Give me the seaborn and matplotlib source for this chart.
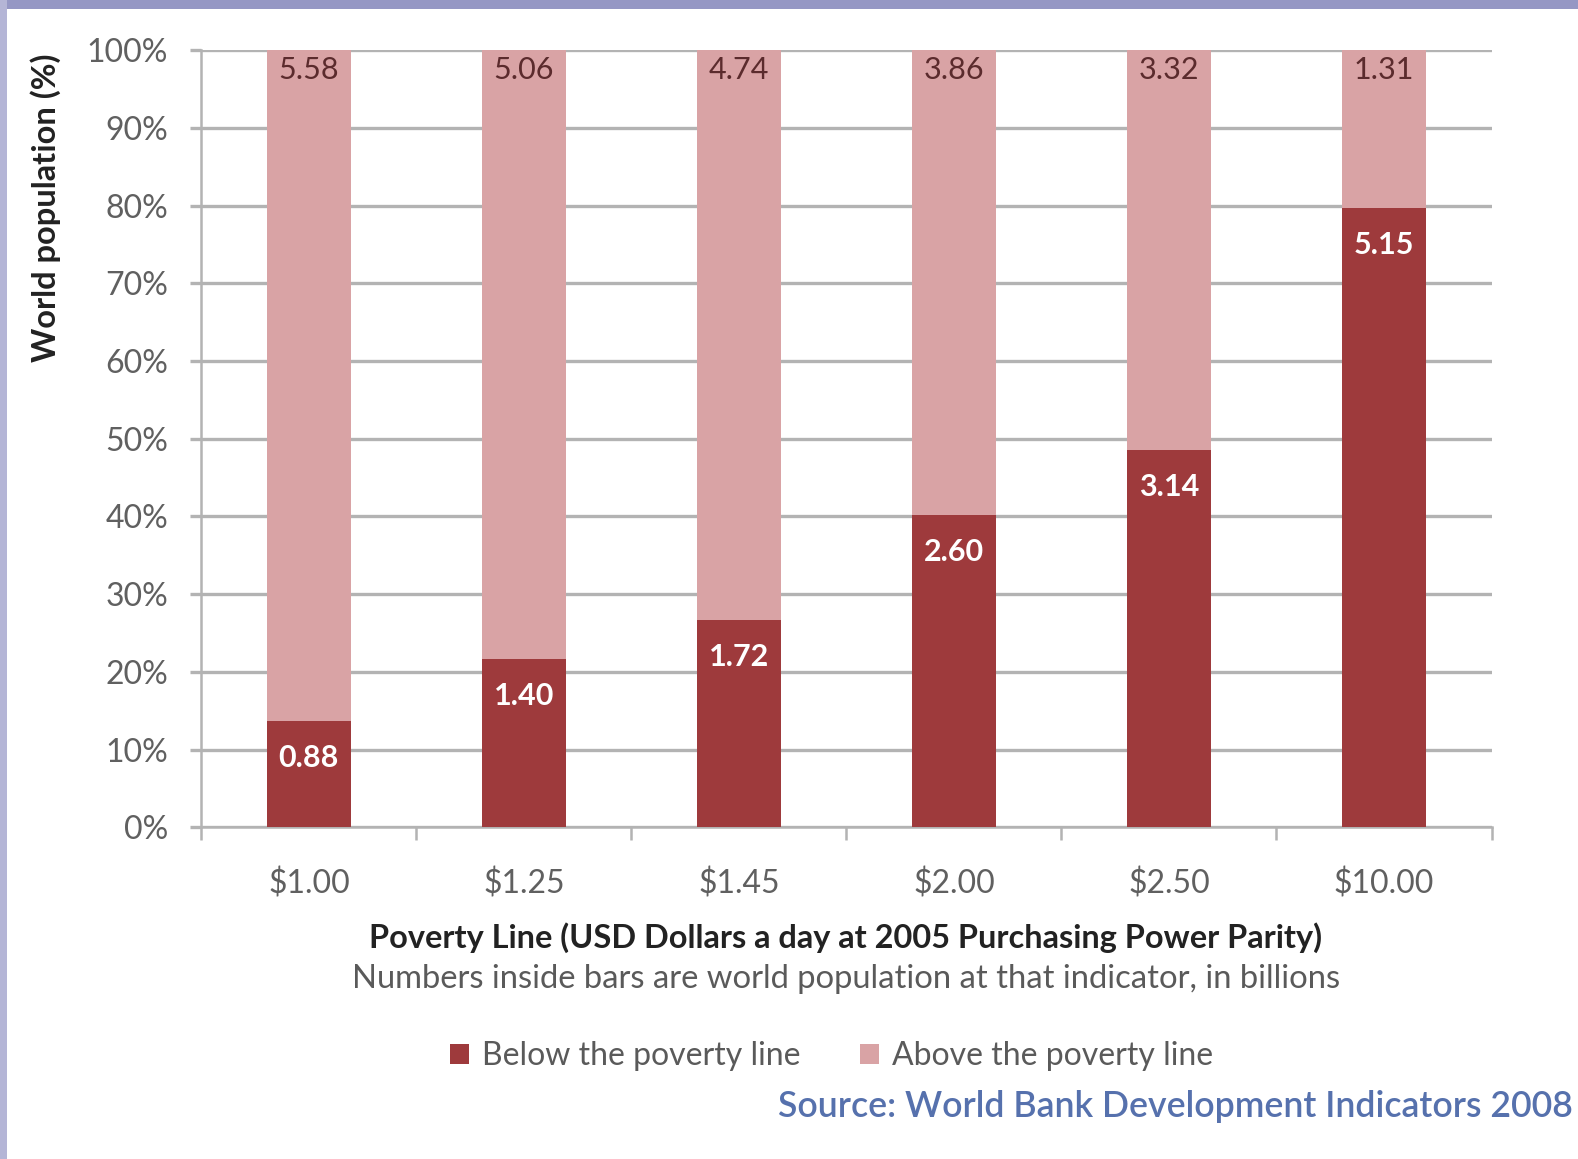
import matplotlib
matplotlib.use("Agg")
import matplotlib.pyplot as plt
from matplotlib.patches import Rectangle, Patch
from matplotlib.ticker import FixedLocator, PercentFormatter
import seaborn as sns
import pandas as pd
import numpy as np

categories = ["$1.00", "$1.25", "$1.45", "$2.00", "$2.50", "$10.00"]
below = [0.88, 1.40, 1.72, 2.60, 3.14, 5.15]
above = [5.58, 5.06, 4.74, 3.86, 3.32, 1.31]
below_label = "Below the poverty line"
above_label = "Above the poverty line"

DARK = "#9e3a3c"
LIGHT = "#d9a3a5"
GRID = "#b3b3b3"
TXT = "#5a5a5a"

sns.set_theme(style="white")
plt.rcParams["font.family"] = ["Lato", "DejaVu Sans"]

df = pd.DataFrame({"cat": categories, "below": below, "above": above})
df["total"] = df["below"] + df["above"]
df["below_pct"] = df["below"] / df["total"] * 100
df["total_pct"] = df["total"] / df["total"] * 100

fig = plt.figure(figsize=(15.78, 11.59), dpi=100, facecolor="white")
fig.patches.append(Rectangle((0, 0.9925), 1, 0.0075, transform=fig.transFigure,
                             facecolor="#9597c4", edgecolor="none", zorder=-5))
fig.patches.append(Rectangle((0, 0), 0.0045, 1, transform=fig.transFigure,
                             facecolor="#b4b5d6", edgecolor="none", zorder=-5))
ax = fig.add_axes([0.1276, 0.2862, 0.9452 - 0.1276, 0.9566 - 0.2862])
ax.set_facecolor("white")

sns.barplot(data=df, x="cat", y="total_pct", order=categories, color=LIGHT,
            width=0.39, ax=ax, saturation=1, zorder=2, edgecolor="none")
sns.barplot(data=df, x="cat", y="below_pct", order=categories, color=DARK,
            width=0.39, ax=ax, saturation=1, zorder=3, edgecolor="none")

ax.set_xlim(-0.5, len(categories) - 0.5)
ax.set_ylim(0, 100)
ax.yaxis.set_major_locator(FixedLocator(np.arange(0, 101, 10)))
ax.yaxis.set_major_formatter(PercentFormatter(decimals=0))
ax.grid(axis="y", color=GRID, linewidth=2.4, zorder=1)
ax.set_axisbelow(True)

for s in ["top", "right"]:
    ax.spines[s].set_visible(False)
for s in ["left", "bottom"]:
    ax.spines[s].set_color(GRID)
    ax.spines[s].set_linewidth(1.8)

ax.tick_params(axis="y", which="major", length=8, width=2.4, color=GRID,
               labelsize=23, labelcolor="#606060", pad=16, left=True)
ax.tick_params(axis="x", which="major", length=0, labelsize=23,
               labelcolor="#606060", pad=30)
ax.xaxis.set_minor_locator(FixedLocator(np.arange(-0.5, len(categories), 1.0)))
ax.tick_params(axis="x", which="minor", length=9, width=1.8, color=GRID,
               bottom=True, direction="out")
ax.set_xlabel("")
ax.set_ylabel("")

# value labels
for i, (b, a, bp) in enumerate(zip(below, above, df["below_pct"])):
    ax.annotate(f"{a:.2f}", (i, 100), xytext=(0, -20), textcoords="offset pixels",
                ha="center", va="center", fontsize=22, color="#5b2b2d", zorder=5)
    ax.annotate(f"{b:.2f}", (i, bp), xytext=(0, -37), textcoords="offset pixels",
                ha="center", va="center", fontsize=22, color="white",
                fontweight="bold", zorder=5)

fig.text(0.0286, 0.821, "World population (%)", rotation=90, ha="center",
         va="center", fontsize=23.5, fontweight="bold", color="#222222")
fig.text(0.536, 0.1907, "Poverty Line (USD Dollars a day at 2005 Purchasing Power Parity)",
         ha="center", va="center", fontsize=23.4, fontweight="bold", color="#222222")
fig.text(0.536, 0.1553, "Numbers inside bars are world population at that indicator, in billions",
         ha="center", va="center", fontsize=23.6, color=TXT)

handles = [Patch(facecolor=DARK, edgecolor="none"), Patch(facecolor=LIGHT, edgecolor="none")]
fig.legend(handles, [below_label, above_label], loc="center",
           bbox_to_anchor=(0.527, 0.0889), ncol=2, frameon=False,
           handlelength=0.6, handleheight=0.6, handletextpad=0.4,
           columnspacing=1.85, fontsize=23, labelcolor=TXT)

fig.text(0.997, 0.0457, "Source: World Bank Development Indicators 2008",
         ha="right", va="center", fontsize=25.7, fontweight="semibold", color="#5671ad")

fig.savefig("out.png", dpi=100, facecolor=fig.get_facecolor())
